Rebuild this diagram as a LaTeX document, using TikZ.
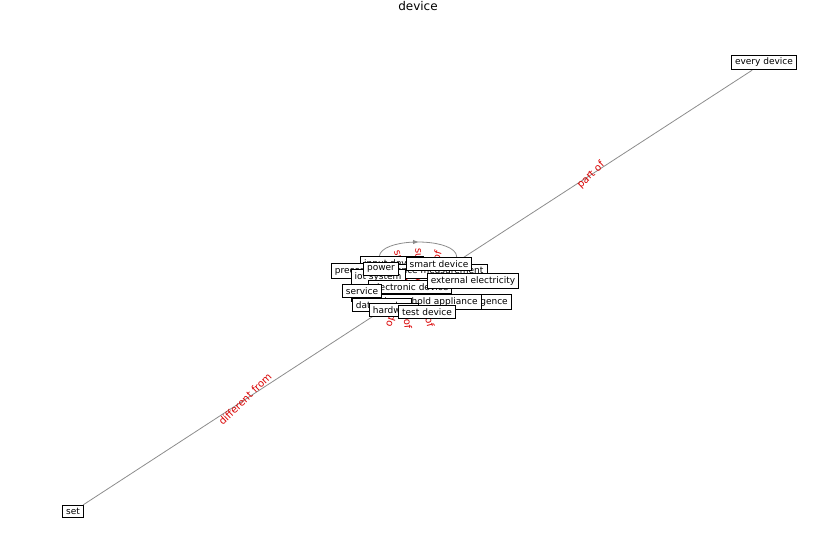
\documentclass[tikz,border=0pt]{standalone}
\usepackage{fontspec}
\setmainfont{DejaVu Sans}
\usetikzlibrary{decorations.markings,arrows.meta}
\tikzset{
  box/.style={draw=black, fill=white, line width=0.8pt, inner xsep=3.5pt, inner ysep=3pt, font=\fontsize{9}{10}\selectfont},
  conn/.style={draw=black!45, line width=0.8pt},
  elabel/.style={text=red!85!black, font=\fontsize{10}{11}\selectfont, inner sep=0pt},
}
\begin{document}
\begin{tikzpicture}[x=1pt,y=-1pt]
\useasboundingbox (0,0) rectangle (837,559);
\node[font=\fontsize{12}{14}\selectfont] (title) at (418,6) {device};
\coordinate (c) at (418,287);
\node[box] (every) at (764,62.5) {every device};
\node[box] (set) at (73,511.5) {set};
\draw[conn] (set) -- (c);
\draw[conn] (c) -- (every);
\draw[conn, postaction={decorate}, decoration={markings, mark=at position 0.5 with {\arrow[black!45]{Triangle[length=5pt,width=4pt]}}}]
  (c) .. controls (284,227) and (552,227) .. (c);
\node[elabel, rotate=44] (l1) at (245,399) {different from};
\node[elabel, rotate=44] (l2) at (591,175) {part of};
\node[elabel, rotate=-72] (l3) at (406,277) {subclass of};
\node[elabel, rotate=-88] (l4) at (420,276) {subclass of};
\node[elabel, rotate=72] (l5) at (430,277) {instance of};
\node[elabel, rotate=72] (l6) at (397,300) {opposite of};
\node[elabel, rotate=-85] (l7) at (406,301) {subclass of};
\node[elabel, rotate=-75] (l8) at (424,300) {subclass of};
% cluster, back to front
\node[box] (n1) at (392,264) {input device};
\node[box] (n2) at (363,271) {precondition};
\node[box] (n3) at (430,271) {presence measurement};
\node[box] (n4) at (378,277) {iot system};
\node[box] (n5) at (447,281) {feature};
\node[box] (n7) at (387,295) {access control};
\node[box] (n9) at (462,302) {artificial intelligence};
\node[box] (n10) at (431,302) {household appliance};
\node[box] (n6) at (410,287) {electronic device};
\node[box] (n8) at (382,305) {data center};
\node[box] (n11) at (473,281) {external electricity};
\node[box] (n12) at (362,291) {service};
\node[box] (n13) at (381,269) {power};
\node[box] (n14) at (439,264) {smart device};
\node[box] (n15) at (394,310) {hardware};
\node[box] (n16) at (427,312) {test device};
\end{tikzpicture}
\end{document}
